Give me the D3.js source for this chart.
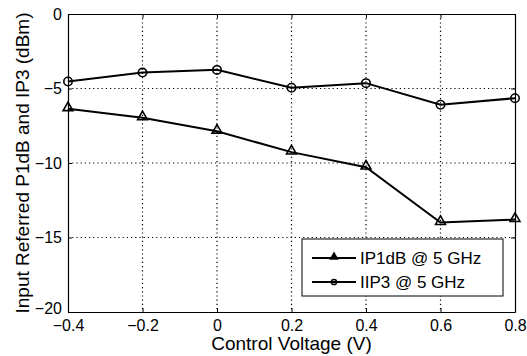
<!DOCTYPE html>
<html>
<head>
<meta charset="utf-8">
<script src="https://cdn.jsdelivr.net/npm/d3@7"></script>
<style>
body { margin: 0; background: #fff; }
svg text { font-family: "Liberation Sans", Arial, sans-serif; fill: #000; }
</style>
</head>
<body>
<svg id="chart" width="527" height="356"></svg>
<script>
// control voltage steps
const voltages = [-0.4, -0.2, 0, 0.2, 0.4, 0.6, 0.8]
const ip1dB = [-6.36, -6.97, -7.87, -9.27, -10.28, -14.0, -13.8]
const iip3 = [-4.53, -3.93, -3.75, -4.95, -4.64, -6.09, -5.65]
const xTicks = [-0.4, -0.2, 0, 0.2, 0.4, 0.6, 0.8]
const yTicks = [0, -5, -10, -15, -20]
const seriesNames = ['IP1dB @ 5 GHz', 'IIP3 @ 5 GHz']

let svg = d3.select('#chart')
let margin = {left: 68, right: 12, top: 14, bottom: 44}
let w = 527 - margin.left - margin.right,
    h = 356 - margin.top - margin.bottom

let x = d3.scaleLinear().domain([-0.4, 0.8]).range([0, w])
let y = d3.scaleLinear().domain([-20, 0]).range([h, 0])

let g = svg.append('g').attr('transform', 'translate(' + margin.left + ',' + margin.top + ')')

let fmt = d => d3.format('')(d).replace('-', '\u2212')

// dotted grid
g.append('g').selectAll('line').data(xTicks.slice(1, -1)).enter().append('line')
    .attr('x1', d => x(d)).attr('x2', d => x(d))
    .attr('y1', 0).attr('y2', h)
    .attr('stroke', '#000').attr('stroke-width', 1.2).attr('stroke-dasharray', '1.2,3')
g.append('g').selectAll('line').data(yTicks.slice(1, -1)).enter().append('line')
    .attr('y1', d => y(d)).attr('y2', d => y(d))
    .attr('x1', 0).attr('x2', w)
    .attr('stroke', '#000').attr('stroke-width', 1.2).attr('stroke-dasharray', '1.2,3')

// axes (ticks inward)
let axBottom = g.append('g').attr('transform', 'translate(0,' + h + ')')
    .call(d3.axisBottom(x).tickValues(xTicks).tickSizeInner(-4).tickSizeOuter(0).tickPadding(8).tickFormat(fmt))
let axLeft = g.append('g')
    .call(d3.axisLeft(y).tickValues(yTicks).tickSizeInner(-4).tickSizeOuter(0).tickPadding(6).tickFormat(fmt))
let axTop = g.append('g')
    .call(d3.axisTop(x).tickValues(xTicks).tickSizeInner(-4).tickSizeOuter(0).tickFormat(''))
let axRight = g.append('g').attr('transform', 'translate(' + w + ',0)')
    .call(d3.axisRight(y).tickValues(yTicks).tickSizeInner(-4).tickSizeOuter(0).tickFormat(''))

;[axBottom, axLeft, axTop, axRight].forEach(a => {
    a.select('.domain').attr('stroke', '#000').attr('stroke-width', 1.2)
    a.selectAll('.tick line').attr('stroke', '#000')
    a.selectAll('text').style('font-size', '16px').attr('fill', '#000')
})
// lift the bottom y label a bit so it clears the x labels
axLeft.selectAll('.tick text').filter(d => d == -20).attr('y', -4)

// lines
let line = d3.line().x((d, i) => x(voltages[i])).y(d => y(d))
g.append('path').datum(ip1dB).attr('d', line)
    .attr('fill', 'none').attr('stroke', '#000').attr('stroke-width', 2)
g.append('path').datum(iip3).attr('d', line)
    .attr('fill', 'none').attr('stroke', '#000').attr('stroke-width', 2)

let tri = d3.symbol().type(d3.symbolTriangle).size(42)
let triSmall = d3.symbol().type(d3.symbolTriangle).size(22)

g.append('g').selectAll('path').data(ip1dB).enter().append('path')
    .attr('d', tri)
    .attr('transform', (d, i) => 'translate(' + x(voltages[i]) + ',' + (y(d) - 1) + ')')
    .attr('fill', 'none').attr('stroke', '#000').attr('stroke-width', 1.6)
g.append('g').selectAll('circle').data(iip3).enter().append('circle')
    .attr('cx', (d, i) => x(voltages[i])).attr('cy', d => y(d)).attr('r', 4.2)
    .attr('fill', 'none').attr('stroke', '#000').attr('stroke-width', 1.6)

// legend
let lg = svg.append('g').attr('transform', 'translate(302,239)')
lg.append('rect').attr('width', 201).attr('height', 57)
    .attr('fill', '#fff').attr('stroke', '#000').attr('stroke-width', 1)
seriesNames.forEach((name, i) => {
    let ly = 19 + i * 24
    lg.append('line').attr('x1', 10).attr('x2', 54).attr('y1', ly).attr('y2', ly)
        .attr('stroke', '#000').attr('stroke-width', 2)
    if (i == 0) {
        lg.append('path').attr('d', triSmall).attr('transform', 'translate(32,' + (ly - 1) + ')')
            .attr('fill', '#000').attr('stroke', '#000').attr('stroke-width', 1.4)
    } else {
        lg.append('circle').attr('cx', 32).attr('cy', ly).attr('r', 2.6)
            .attr('fill', 'none').attr('stroke', '#000').attr('stroke-width', 1.5)
    }
    lg.append('text').attr('x', 58).attr('y', ly).attr('dy', '0.35em')
        .style('font-size', '17px').text(name)
})

// axis titles
svg.append('text').attr('x', margin.left + w / 2).attr('y', 350)
    .attr('text-anchor', 'middle').style('font-size', '19px').text('Control Voltage (V)')
svg.append('text').attr('transform', 'translate(29,' + (margin.top + h / 2) + ') rotate(-90)')
    .attr('text-anchor', 'middle').style('font-size', '19px').text('Input Referred P1dB and IP3 (dBm)')
</script>
</body>
</html>
